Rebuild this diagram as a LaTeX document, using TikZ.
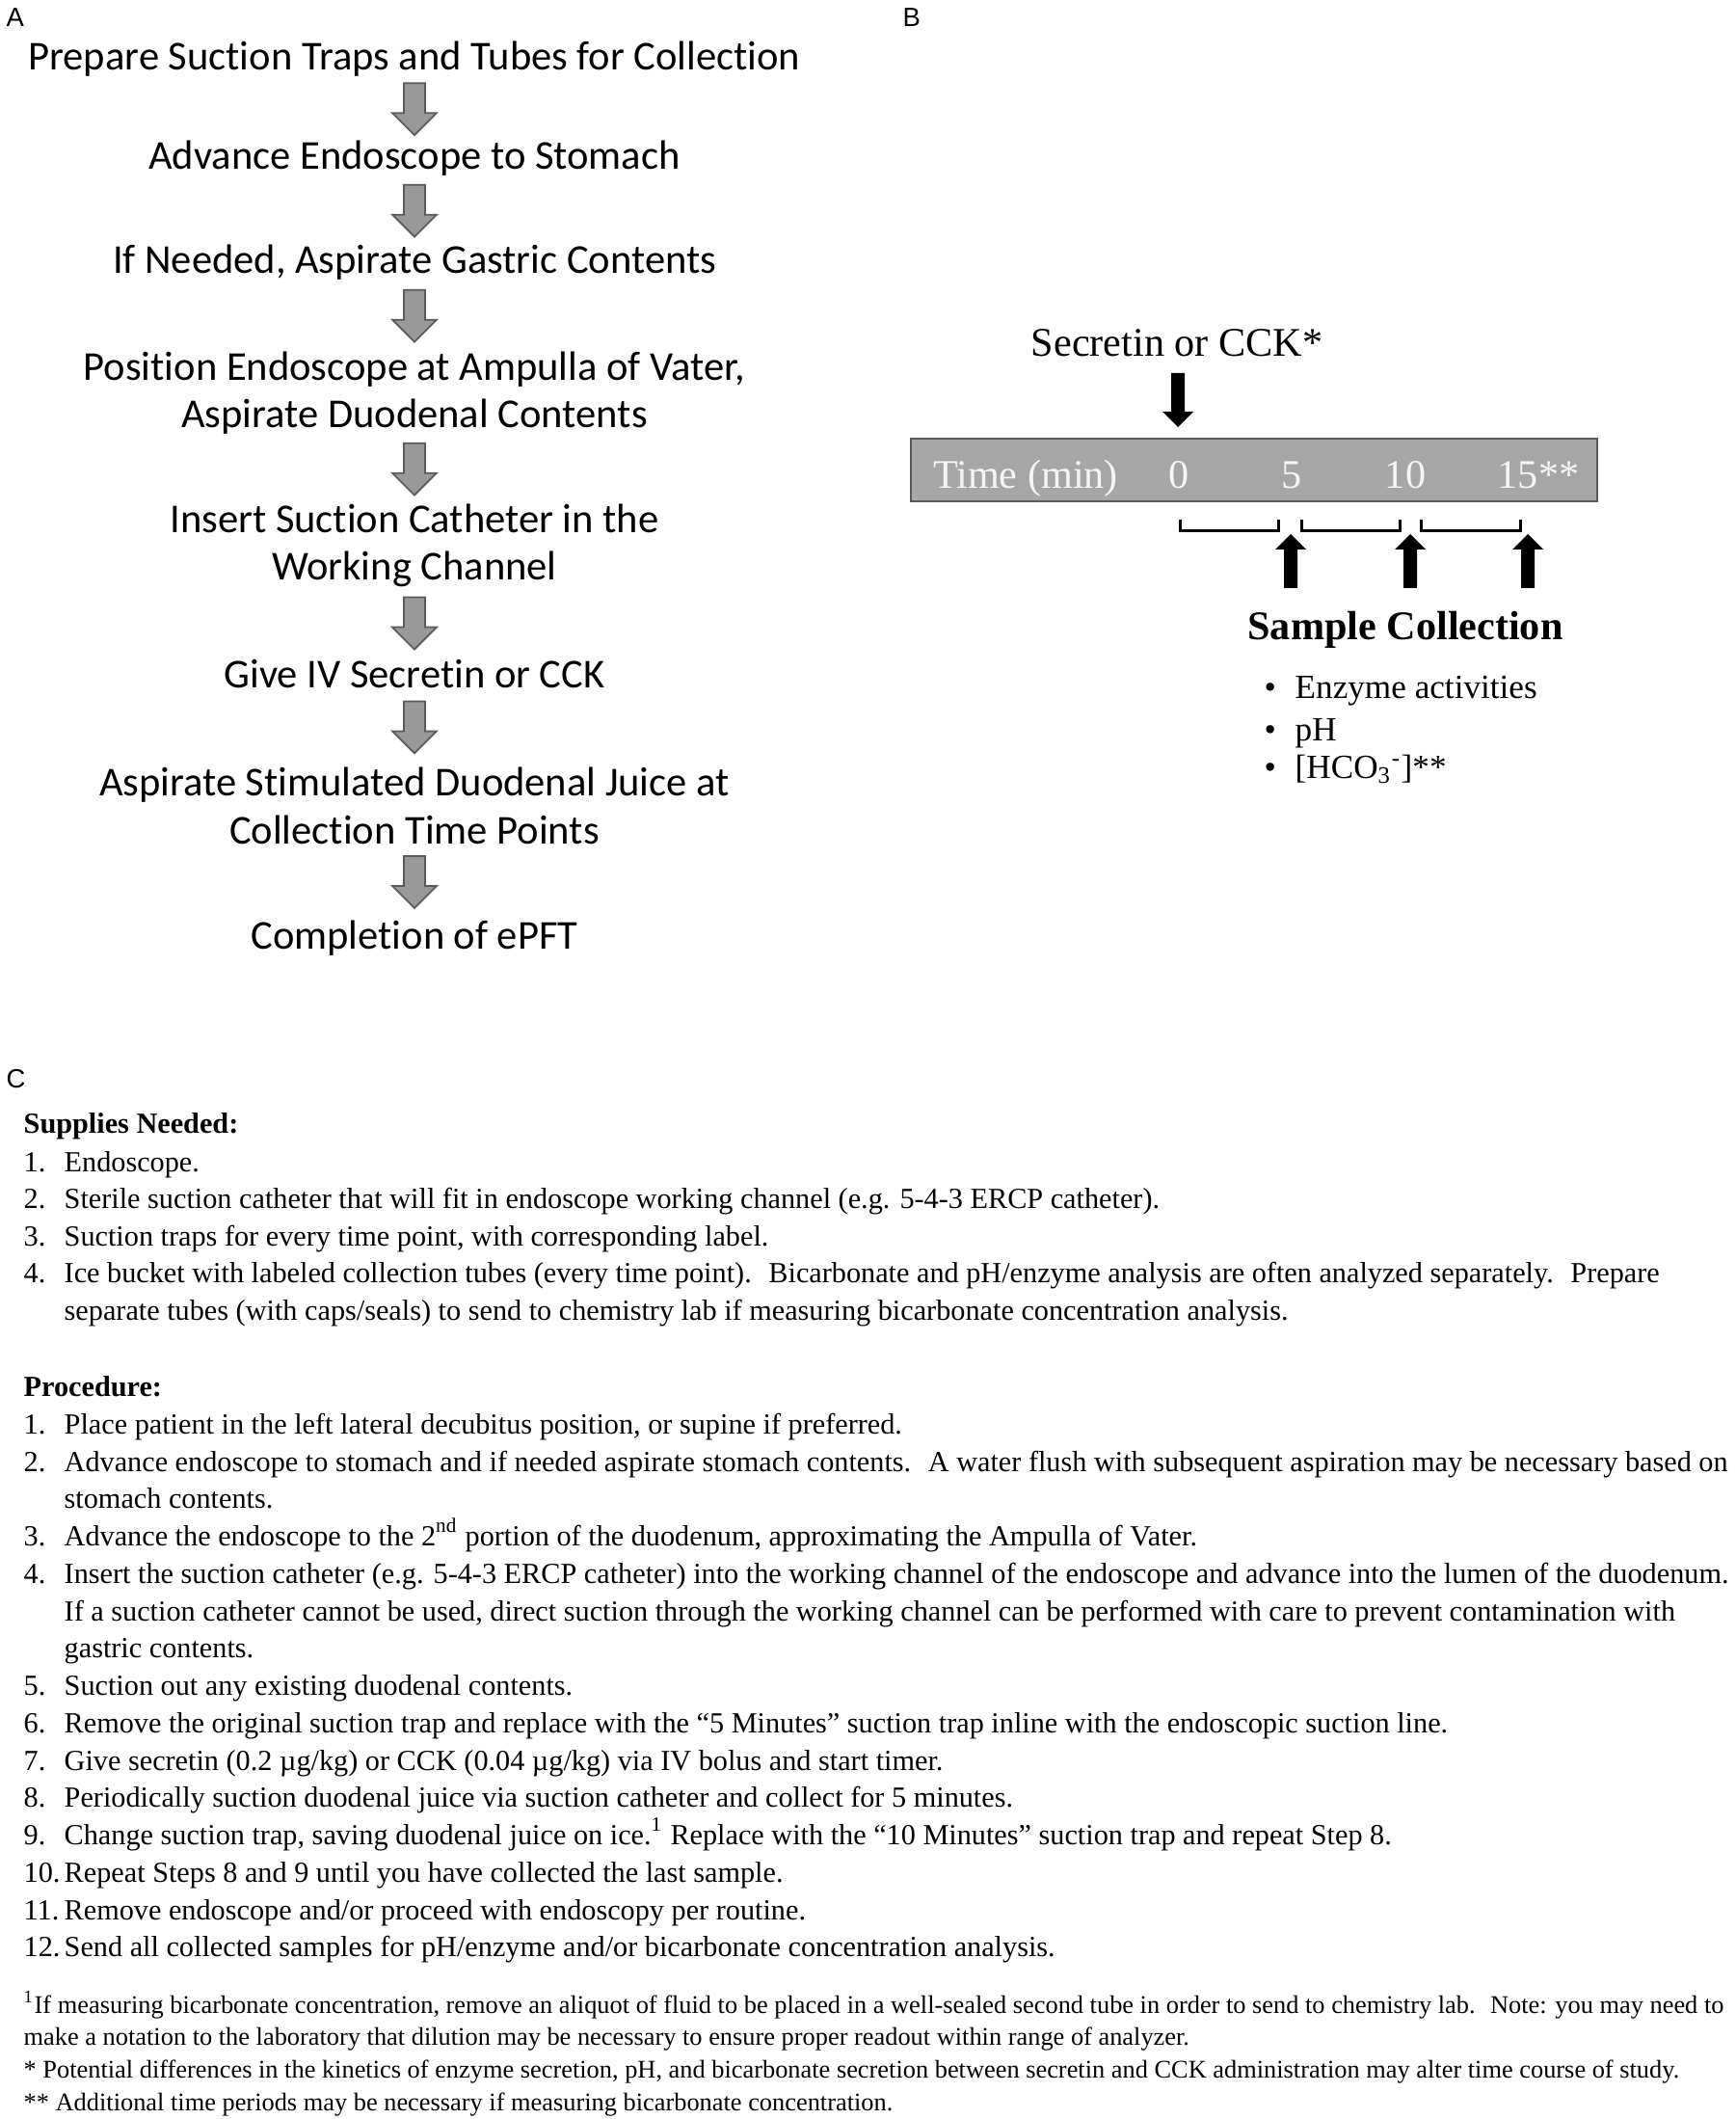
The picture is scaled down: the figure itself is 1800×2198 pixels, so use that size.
\documentclass[tikz,border=0pt]{standalone}
\usepackage{fontspec}
\setmainfont{Liberation Serif}
\newfontfamily\calib[Ligatures=NoCommon]{Carlito}
\newfontfamily\arial{Liberation Sans}
\usepackage{xcolor}
\usetikzlibrary{calc}

\definecolor{arrgray}{RGB}{153,153,153}
\definecolor{edgegray}{RGB}{90,90,90}
\definecolor{bargray}{RGB}{166,166,166}
\definecolor{bartext}{RGB}{245,245,245}

\tikzset{
  stepnode/.style={font=\calib\fontsize{12.1}{14.2}\selectfont, align=center, inner sep=0pt, anchor=base},
  panel/.style={font=\arial\fontsize{7.8}{9}\selectfont, inner sep=0pt, anchor=base west},
  tnode/.style={font=\fontsize{12}{14}\selectfont, inner sep=0pt, anchor=base},
  bartxt/.style={tnode, text=bartext},
  bullet/.style={font=\fontsize{10}{12}\selectfont, inner sep=0pt, anchor=base west},
  body/.style={font=\fontsize{8.6}{10}\selectfont, inner sep=0pt, anchor=base west},
  head/.style={body, font=\bfseries\fontsize{8.6}{10}\selectfont},
  foot/.style={font=\fontsize{7.5}{9}\selectfont, inner sep=0pt, anchor=base west},
  bracket/.style={line width=0.03cm},
  grayarr/.pic={\filldraw[fill=arrgray, draw=edgegray, line width=0.5pt]
    (-11,-27) -- (11,-27) -- (11,4) -- (23,4) -- (0,27) -- (-23,4) -- (-11,4) -- cycle;},
  blkarr/.pic={\fill (-7,-28) -- (7,-28) -- (7,12) -- (16,12) -- (0,28) -- (-16,12) -- (-7,12) -- cycle;}
}

\begin{document}
\begin{tikzpicture}[x=0.01cm,y=-0.01cm]
\useasboundingbox (0,0) rectangle (1800,2198);

% panel labels
\node[panel] (la) at (6,28) {A};
\node[panel] (lb) at (936,28) {B};
\node[panel] (lc) at (6,1128) {C};

% A: flow of the procedure
\node[stepnode] (s1) at (430,73) {Prepare Suction Traps and Tubes for Collection};
\node[stepnode] (s2) at (430,176) {Advance Endoscope to Stomach};
\node[stepnode] (s3) at (430,284) {If Needed, Aspirate Gastric Contents};
\node[stepnode] (s4) at (430,444) {Position Endoscope at Ampulla of Vater,\\Aspirate Duodenal Contents};
\node[stepnode] (s5) at (430,602) {Insert Suction Catheter in the\\Working Channel};
\node[stepnode] (s6) at (430,713) {Give IV Secretin or CCK};
\node[stepnode] (s7) at (430,875) {Aspirate Stimulated Duodenal Juice at\\Collection Time Points};
\node[stepnode] (s8) at (430,984) {Completion of ePFT};
\foreach \a/\b in {s1/s2,s2/s3,s3/s4,s4/s5,s5/s6,s6/s7,s7/s8}
  \pic at ($(\a.south)!0.5!(\b.north)$) {grayarr};

% B: time line
\node[tnode] (sec) at (1221,370) {Secretin or CCK*};
\node[draw=edgegray, line width=0.02cm, fill=bargray, anchor=north west,
  minimum width=7.12cm, minimum height=0.65cm, inner sep=0pt] (bar) at (944,454) {};
\node[bartxt] (tlab) at (1064,507) {Time (min)};
\node[bartxt] (t0) at (1223,507) {0};
\node[bartxt] (t5) at (1340,507) {5};
\node[bartxt] (t10) at (1458,507) {10};
\node[bartxt] (t15) at (1596,507) {15**};
\pic at (1222,415) {blkarr};
\foreach \a/\b in {1224/1326,1350/1452,1474/1577}
  \draw[bracket] (\a,539) |- (\b,551) -- (\b,539);
\foreach \x in {1339,1463,1585}
  \pic[rotate=180] at (\x,582) {blkarr};
\node[tnode, font=\bfseries\fontsize{12}{14}\selectfont] (coll) at (1458,663) {Sample Collection};
\foreach \y/\t [count=\i] in {725/{Enzyme activities},768/{pH},807/{[HCO\textsubscript{3}\textsuperscript{-}]**}} {
  \node[bullet] (b\i) at (1311,\y) {\textbullet};
  \node[bullet] (m\i) at (1343,\y) {\t};
}

% C: supplies
\node[head] (sup) at (24,1175) {Supplies Needed:};
\node[body] (sn1) at (24,1215) {1.};
\node[body] (su1) at (66,1215) {Endoscope.};
\node[body] (sn2) at (24,1253) {2.};
\node[body] (su2) at (66,1253) {Sterile suction catheter that will fit in endoscope working channel (e.g. 5-4-3 ERCP catheter).};
\node[body] (sn3) at (24,1292) {3.};
\node[body] (su3) at (66,1292) {Suction traps for every time point, with corresponding label.};
\node[body] (sn4) at (24,1330) {4.};
\node[body] (su4) at (66,1330) {Ice bucket with labeled collection tubes (every time point).~ Bicarbonate and pH/enzyme analysis are often analyzed separately.~ Prepare};
\node[body] (su4b) at (66,1369) {separate tubes (with caps/seals) to send to chemistry lab if measuring bicarbonate concentration analysis.};

% C: procedure
\node[head] (proc) at (24,1448) {Procedure:};
\node[body] (pn1) at (24,1487) {1.};
\node[body] (p1) at (66,1487) {Place patient in the left lateral decubitus position, or supine if preferred.};
\node[body] (pn2) at (24,1526) {2.};
\node[body] (p2) at (66,1526) {Advance endoscope to stomach and if needed aspirate stomach contents.~ A water flush with subsequent aspiration may be necessary based on};
\node[body] (p2b) at (66,1564) {stomach contents.};
\node[body] (pn3) at (24,1603) {3.};
\node[body] (p3) at (66,1603) {Advance the endoscope to the 2\textsuperscript{nd} portion of the duodenum, approximating the Ampulla of Vater.};
\node[body] (pn4) at (24,1642) {4.};
\node[body] (p4) at (66,1642) {Insert the suction catheter (e.g. 5-4-3 ERCP catheter) into the working channel of the endoscope and advance into the lumen of the duodenum.};
\node[body] (p4b) at (66,1681) {If a suction catheter cannot be used, direct suction through the working channel can be performed with care to prevent contamination with};
\node[body] (p4c) at (66,1719) {gastric contents.};
\node[body] (pn5) at (24,1758) {5.};
\node[body] (p5) at (66,1758) {Suction out any existing duodenal contents.};
\node[body] (pn6) at (24,1797) {6.};
\node[body] (p6) at (66,1797) {Remove the original suction trap and replace with the “5 Minutes” suction trap inline with the endoscopic suction line.};
\node[body] (pn7) at (24,1836) {7.};
\node[body] (p7) at (66,1836) {Give secretin (0.2 µg/kg) or CCK (0.04 µg/kg) via IV bolus and start timer.};
\node[body] (pn8) at (24,1874) {8.};
\node[body] (p8) at (66,1874) {Periodically suction duodenal juice via suction catheter and collect for 5 minutes.};
\node[body] (pn9) at (24,1913) {9.};
\node[body] (p9) at (66,1913) {Change suction trap, saving duodenal juice on ice.\textsuperscript{1} Replace with the “10 Minutes” suction trap and repeat Step 8.};
\node[body] (pn10) at (24,1952) {10.};
\node[body] (p10) at (66,1952) {Repeat Steps 8 and 9 until you have collected the last sample.};
\node[body] (pn11) at (24,1991) {11.};
\node[body] (p11) at (66,1991) {Remove endoscope and/or proceed with endoscopy per routine.};
\node[body] (pn12) at (24,2029) {12.};
\node[body] (p12) at (66,2029) {Send all collected samples for pH/enzyme and/or bicarbonate concentration analysis.};

% C: notes
\node[foot] (f1) at (24,2088) {\textsuperscript{1}If measuring bicarbonate concentration, remove an aliquot of fluid to be placed in a well-sealed second tube in order to send to chemistry lab.~ Note: you may need to};
\node[foot] (f1b) at (24,2121) {make a notation to the laboratory that dilution may be necessary to ensure proper readout within range of analyzer.};
\node[foot] (f2) at (24,2155) {* Potential differences in the kinetics of enzyme secretion, pH, and bicarbonate secretion between secretin and CCK administration may alter time course of study.};
\node[foot] (f3) at (24,2189) {** Additional time periods may be necessary if measuring bicarbonate concentration.};
\end{tikzpicture}
\end{document}
